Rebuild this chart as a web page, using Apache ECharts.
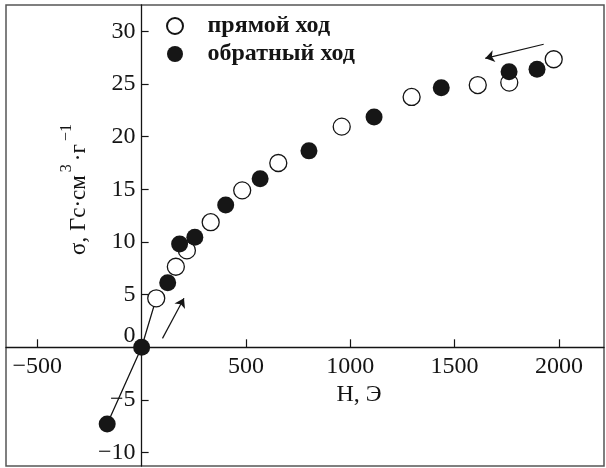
<!DOCTYPE html>
<html>
<head>
<meta charset="utf-8">
<script src="https://cdn.jsdelivr.net/npm/echarts@6/dist/echarts.min.js"></script>
<style>html,body{margin:0;padding:0;background:#fff}#chart{width:606px;height:468px}</style>
</head>
<body>
<div id="chart"></div>
<script>
// прямой ход (open circles)
const forwardH = [70, 164, 217, 331, 482, 655, 959, 1294, 1611, 1762, 1975];
const forwardS = [4.65, 7.65, 9.2, 11.88, 14.9, 17.5, 20.95, 23.77, 24.9, 25.13, 27.35];
// обратный ход (filled circles)
const backwardH = [-165, 0, 125, 182, 255, 403, 568, 802, 1114, 1436, 1761, 1895];
const backwardS = [-7.28, 0, 6.12, 9.8, 10.45, 13.5, 16.0, 18.65, 21.87, 24.65, 26.17, 26.4];
// initial magnetization line
const lineH = [-165, 0, 70];
const lineS = [-7.28, 0, 4.65];
// direction arrows [from, to]
const arrows = [
  [[100, 0.85], [203, 4.65]],
  [[1927, 28.77], [1647, 27.44]]
];
const xTicks = [-500, 500, 1000, 1500, 2000];
const yTicks = [-10, -5, 0, 5, 10, 15, 20, 25, 30];

const FONT = 'Liberation Serif';
const INK = '#141414';
const GRID = { left: 6, right: 2, top: 5, bottom: 2 };

function zip(a, b) {
  return a.map((v, i) => [v, b[i]]);
}
function minus(v) {
  return v < 0 ? '\u2212' + Math.abs(v) : String(v);
}

const chart = echarts.init(document.getElementById('chart'));
chart.setOption({
  animation: false,
  backgroundColor: '#fff',
  grid: Object.assign({
    outerBoundsMode: 'none',
    show: true, borderColor: '#555', borderWidth: 1.5
  }, GRID),
  legend: {
    data: ['прямой ход', 'обратный ход'],
    orient: 'vertical',
    left: 161, top: 9,
    itemWidth: 55, itemHeight: 16, itemGap: 4,
    textStyle: { fontFamily: FONT, fontWeight: 'bold', fontSize: 24, lineHeight: 24, color: INK }
  },
  xAxis: {
    type: 'value',
    min: -650, max: 2216,
    axisLine: { onZero: false, lineStyle: { color: INK, width: 1.3 } },
    axisTick: { inside: true, length: 8, customValues: xTicks, lineStyle: { color: INK, width: 1.2 } },
    axisLabel: {
      customValues: xTicks, margin: 7,
      fontFamily: FONT, fontSize: 24, color: INK,
      formatter: minus
    },
    splitLine: { show: false },
    name: 'H, Э',
    nameLocation: 'middle',
    nameGap: 35,
    nameMoveOverlap: false,
    nameTextStyle: { fontFamily: FONT, fontSize: 24, color: INK, padding: [0, 0, 0, 108] }
  },
  yAxis: {
    type: 'value',
    min: -11.27, max: 32.5,
    axisLine: { onZero: false, lineStyle: { color: INK, width: 1.3 } },
    axisTick: { inside: true, length: 7, customValues: yTicks, lineStyle: { color: INK, width: 1.2 } },
    axisLabel: {
      customValues: yTicks, margin: 6,
      fontFamily: FONT, fontSize: 24, color: INK,
      formatter: function (v) { return v === 0 ? '{z|0}' : minus(v); },
      rich: { z: { fontFamily: FONT, fontSize: 24, color: INK, padding: [0, 0, 24, 0] } }
    },
    splitLine: { show: false },
    name: '{a|σ, Гс·см}{s|3}{a|·г}{s|\u22121}',
    nameLocation: 'middle',
    nameRotate: 90,
    nameGap: 60,
    nameMoveOverlap: false,
    nameTextStyle: {
      padding: [0, 0, 0, 95],
      rich: {
        a: { fontFamily: FONT, fontSize: 23, lineHeight: 23, color: INK, padding: [9, 0, 0, 0], verticalAlign: 'top' },
        s: { fontFamily: FONT, fontSize: 16, lineHeight: 16, color: INK, padding: [0, 3, 0, 3], verticalAlign: 'top' }
      }
    }
  },
  series: [
    {
      type: 'line',
      data: zip(lineH, lineS),
      symbol: 'none',
      silent: true,
      z: 1,
      lineStyle: { color: INK, width: 1.3 },
      markLine: {
        silent: true,
        symbol: ['none', 'arrow'],
        symbolSize: 9,
        label: { show: false },
        lineStyle: { color: INK, width: 1.2, type: 'solid' },
        data: arrows.map(a => [{ coord: a[0] }, { coord: a[1] }])
      }
    },
    {
      name: 'прямой ход',
      type: 'scatter',
      data: zip(forwardH, forwardS),
      symbol: 'circle',
      symbolSize: 17,
      z: 2,
      itemStyle: { color: '#fff', borderColor: INK, borderWidth: 1.3, opacity: 1 }
    },
    {
      name: 'обратный ход',
      type: 'scatter',
      data: zip(backwardH, backwardS),
      symbol: 'circle',
      symbolSize: 17,
      z: 3,
      itemStyle: { color: '#161616', opacity: 1 }
    }
  ]
});

// move both axes (line, ticks, labels, name) onto the zero crossing
const zero = chart.convertToPixel({ xAxisIndex: 0, yAxisIndex: 0 }, [0, 0]);
const H = chart.getHeight();
chart.setOption({
  xAxis: { offset: zero[1] - (H - GRID.bottom) },
  yAxis: { offset: GRID.left - zero[0] }
});
</script>
</body>
</html>
